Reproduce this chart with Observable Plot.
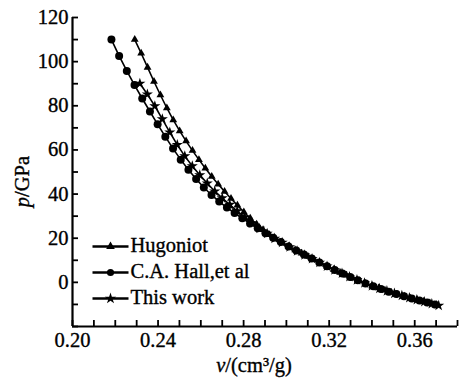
<!DOCTYPE html>
<html>
<head>
<meta charset="utf-8">
<script src="https://cdn.jsdelivr.net/npm/d3@7"></script>
<script src="https://cdn.jsdelivr.net/npm/@observablehq/plot@0.6"></script>
<style>
  html, body { margin: 0; padding: 0; background: #fff; }
  #chart { width: 470px; height: 378px; }
  #chart svg text { font-family: "Liberation Serif", "Times New Roman", serif; stroke: black; stroke-width: 0.35px; }
</style>
</head>
<body>
<div id="chart"></div>
<script>
// ---- data ----
const hugoniotV = [0.2291, 0.2321, 0.2351, 0.2381, 0.2411, 0.2441, 0.2471, 0.2501, 0.2531, 0.2561,
  0.2591, 0.2621, 0.2651, 0.2681, 0.2711, 0.2741, 0.2771, 0.2801, 0.2831, 0.2861,
  0.2891, 0.2921, 0.2951, 0.2981, 0.3011, 0.3041, 0.3071, 0.3101, 0.3131, 0.3161,
  0.3191, 0.3221, 0.3251, 0.3281, 0.3311, 0.3341, 0.3371, 0.3401, 0.3431, 0.3461,
  0.3491, 0.3521, 0.3551, 0.3581, 0.3611, 0.3641, 0.3671, 0.3701];
const hugoniotP = [110.0, 103.8, 97.4, 91.0, 84.9, 79.0, 73.6, 68.6, 64.0, 59.7,
  55.6, 51.7, 48.0, 44.5, 41.2, 38.0, 34.9, 31.9, 29.0, 26.3,
  23.8, 21.6, 19.6, 17.9, 16.3, 14.7, 13.2, 11.7, 10.2, 8.7,
  7.3, 5.8, 4.5, 3.2, 1.9, 0.6, -0.5, -1.6, -2.6, -3.6,
  -4.6, -5.5, -6.3, -7.2, -7.9, -8.7, -9.4, -10.2];

const hallV = [0.2182, 0.2218, 0.2254, 0.2290, 0.2326, 0.2362, 0.2398, 0.2434, 0.2470, 0.2506,
  0.2542, 0.2578, 0.2614, 0.2650, 0.2686, 0.2722, 0.2758, 0.2794, 0.2830, 0.2866,
  0.2902, 0.2938, 0.2974, 0.3010, 0.3046, 0.3082, 0.3118, 0.3154, 0.3190, 0.3226,
  0.3262, 0.3298, 0.3334, 0.3370, 0.3406, 0.3442, 0.3478, 0.3514, 0.3550, 0.3586,
  0.3622, 0.3658, 0.3694];
const hallP = [110.0, 102.6, 95.8, 89.4, 83.3, 77.4, 71.6, 66.0, 60.6, 55.6,
  51.0, 46.8, 43.0, 39.6, 36.6, 33.9, 31.4, 29.0, 26.7, 24.5,
  22.3, 20.2, 18.3, 16.3, 14.4, 12.6, 10.8, 9.0, 7.3, 5.6,
  4.0, 2.4, 0.9, -0.5, -1.8, -3.0, -4.2, -5.3, -6.3, -7.3,
  -8.2, -9.1, -10.0];

const workV = [0.2315, 0.2350, 0.2385, 0.2420, 0.2455, 0.2490, 0.2525, 0.2560, 0.2595, 0.2630,
  0.2665, 0.2700, 0.2735, 0.2770, 0.2805, 0.2840, 0.2875, 0.2910, 0.2945, 0.2980,
  0.3015, 0.3050, 0.3085, 0.3120, 0.3155, 0.3190, 0.3225, 0.3260, 0.3295, 0.3330,
  0.3365, 0.3400, 0.3435, 0.3470, 0.3505, 0.3540, 0.3575, 0.3610, 0.3645, 0.3680, 0.3712];
const workP = [90.1, 85.2, 79.9, 74.0, 68.0, 62.3, 57.2, 52.7, 48.6, 44.9,
  41.3, 38.2, 35.2, 32.3, 29.5, 26.9, 24.4, 22.1, 19.9, 18.0,
  16.0, 14.2, 12.4, 10.7, 9.0, 7.3, 5.6, 4.1, 2.5, 1.1,
  -0.3, -1.6, -2.8, -3.9, -5.0, -6.0, -7.0, -7.9, -8.8, -9.7, -10.5];

const seriesNames = ["Hugoniot", "C.A. Hall,et al", "This work"];
const seriesSymbols = ["triangle", "circle", "star"];

const xTickLabels = [0.20, 0.24, 0.28, 0.32, 0.36];
const xTicksAll = [0.20, 0.21, 0.22, 0.23, 0.24, 0.25, 0.26, 0.27, 0.28, 0.29,
  0.30, 0.31, 0.32, 0.33, 0.34, 0.35, 0.36, 0.37, 0.38];
const yTickLabels = [0, 20, 40, 60, 80, 100, 120];
const yTicksAll = [-20, -10, 0, 10, 20, 30, 40, 50, 60, 70, 80, 90, 100, 110, 120];

const xLabel = "v/(cm³/g)";
const yLabel = "p/GPa";

// ---- build tables ----
const hugoniot = hugoniotV.map((v, i) => ({v, p: hugoniotP[i]}));
const hall = hallV.map((v, i) => ({v, p: hallP[i]}));
const work = workV.map((v, i) => ({v, p: workP[i]}));

const serif = "'Liberation Serif', 'Times New Roman', serif";
const fs = 20.5;

const lineSymbol = {
  draw(context) { context.moveTo(-18, 0); context.lineTo(18, 0); }
};

const legendDy = [-80, -54, -28];
const legendR = [3.2, 3.6, 3.6];
const legendMarks = seriesNames.flatMap((name, i) => [
  Plot.dot([name], {frameAnchor: "bottom-left", dx: 38, dy: legendDy[i], symbol: lineSymbol, stroke: "black", strokeWidth: 2.4, fill: "none"}),
  Plot.dot([name], {frameAnchor: "bottom-left", dx: 38, dy: legendDy[i], symbol: seriesSymbols[i], r: legendR[i], fill: "black"}),
  Plot.text([name], {frameAnchor: "bottom-left", dx: 58, dy: legendDy[i] - 1.5, text: d => d, textAnchor: "start", lineAnchor: "middle", fontSize: fs, fontFamily: serif})
]);

const chart = Plot.plot({
  width: 470,
  height: 378,
  marginLeft: 72,
  marginRight: 13,
  marginTop: 17,
  marginBottom: 52,
  x: {domain: [0.20, 0.38], axis: null},
  y: {domain: [-20, 120], axis: null},
  style: {fontFamily: serif, fontSize: fs + "px", color: "black", background: "white", overflow: "visible"},
  marks: [
    // axis lines
    Plot.ruleX([0.20], {stroke: "black", strokeWidth: 2.2}),
    Plot.ruleY([-20], {stroke: "black", strokeWidth: 2.2}),
    // inward ticks
    Plot.axisX({ticks: xTicksAll, tickSize: -6, tickFormat: () => "", strokeWidth: 1.8, label: null}),
    Plot.axisY({ticks: yTicksAll, tickSize: -6, tickFormat: () => "", strokeWidth: 1.8, label: null}),
    // tick labels
    Plot.axisX({ticks: xTickLabels, tickSize: 0, tickPadding: 6, tickFormat: d3.format(".2f"), label: null, fontFamily: serif, fontSize: fs}),
    Plot.axisY({ticks: yTickLabels, tickSize: 0, tickPadding: 4, tickFormat: d3.format("d"), label: null, fontFamily: serif, fontSize: fs}),
    // axis titles
    Plot.text([yLabel], {frameAnchor: "left", dx: -50, dy: 9.5, rotate: -90, textAnchor: "middle", lineAnchor: "middle", text: d => d, fontSize: fs, fontFamily: serif}),
    Plot.text([xLabel], {frameAnchor: "bottom", dx: -11, dy: 39, textAnchor: "middle", lineAnchor: "middle", text: d => d, fontSize: fs, fontFamily: serif}),
    // series
    Plot.line(hugoniot, {x: "v", y: "p", stroke: "black", strokeWidth: 1.6}),
    Plot.line(work, {x: "v", y: "p", stroke: "black", strokeWidth: 1.6}),
    Plot.line(hall, {x: "v", y: "p", stroke: "black", strokeWidth: 1.6}),
    Plot.dot(hugoniot, {x: "v", y: "p", symbol: "triangle", r: 2.9, fill: "black"}),
    Plot.dot(work, {x: "v", y: "p", symbol: "star", r: 3.5, fill: "black"}),
    Plot.dot(hall, {x: "v", y: "p", symbol: "circle", r: 4, fill: "black"}),
    ...legendMarks
  ]
});

document.getElementById("chart").appendChild(chart);

// italic variable letters in axis titles
d3.select(chart).selectAll("text").each(function() {
  const t = this.textContent;
  if (t === yLabel || t === xLabel) {
    const sel = d3.select(this);
    sel.text(null);
    sel.append("tspan").attr("font-style", "italic").text(t[0]);
    sel.append("tspan").text(t.slice(1));
  }
});
</script>
</body>
</html>
